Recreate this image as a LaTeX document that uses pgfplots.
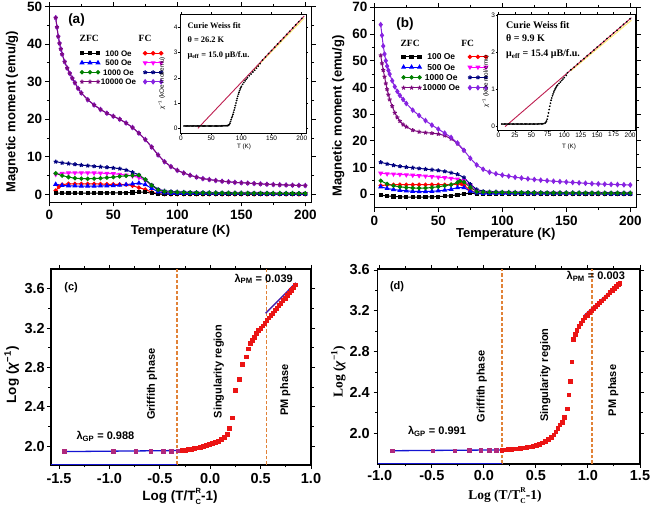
\documentclass[border=0pt]{standalone}
\usepackage{fontspec}
\setmainfont{Liberation Sans}
\newfontfamily\tnr{Liberation Serif}
\usepackage{pgfplots}
\pgfplotsset{compat=1.18}
\definecolor{cNavy}{RGB}{0,0,128}
\definecolor{cGreen}{RGB}{0,128,0}
\definecolor{cPurple}{RGB}{125,10,125}
\definecolor{cViolet}{RGB}{135,35,225}
\definecolor{cMag}{RGB}{255,0,255}
\definecolor{cRed}{RGB}{255,0,0}
\definecolor{cBlue}{RGB}{0,0,255}
\definecolor{cFit}{RGB}{190,30,80}
\definecolor{cYel}{RGB}{255,235,120}
\definecolor{cSq}{RGB}{235,20,20}
\definecolor{cSqP}{RGB}{175,40,125}
\definecolor{cGP}{RGB}{20,20,210}
\definecolor{cPM}{RGB}{70,30,170}
\tikzset{
 sZ100/.style={black, mark=square*, mark size=1.6pt, line width=1pt},
 sZ500/.style={cBlue, mark=triangle*, mark size=2pt, line width=1pt},
 sZ1k/.style={cGreen, mark=*, mark size=1.7pt, line width=1pt},
 sZ10k/.style={cPurple, mark=star, mark size=2.1pt, line width=1pt, mark options={line width=1.1pt}},
 sF100/.style={cRed, mark=*, mark size=1.7pt, line width=1pt},
 sF500/.style={cMag, mark=triangle*, mark size=2pt, line width=1pt, mark options={rotate=180}},
 sF1k/.style={cNavy, mark=star, mark size=2.1pt, line width=1pt, mark options={line width=1.2pt}},
 sF10k/.style={cViolet, mark=diamond*, mark size=2.1pt, line width=1pt},
 dashv/.style={draw={rgb,255:red,225;green,130;blue,55}, line width=1.5pt, dash pattern=on 3.5pt off 2pt},
}
\newcommand{\labfont}{\fontsize{13}{15}\selectfont\bfseries}
\newcommand{\labfontc}{\fontsize{13.5}{15}\selectfont\bfseries}
\newcommand{\labfontd}{\tnr\bfseries\fontsize{13.5}{15}\selectfont}
\newcommand{\insfont}{\fontsize{6.3}{7}\selectfont}
\newcommand{\TCR}{T\rlap{\raisebox{0.52em}{\fontsize{7.5}{8}\selectfont R}}\raisebox{-0.32em}{\fontsize{7.5}{8}\selectfont C}}
\pgfplotsset{
 mainax/.style={scale only axis, anchor=south west,
   axis line style={line width=1.2pt},
   tick align=outside, major tick length=4pt, minor tick length=2.5pt,
   every tick/.append style={black, line width=1pt},
   /pgf/number format/assume math mode=true},
 insetax/.style={scale only axis, anchor=south west,
   axis line style={line width=0.9pt},
   tick align=outside, major tick length=1.8pt, minor tick length=1pt,
   every tick/.append style={black, line width=0.6pt},
   axis background/.style={fill=white},
   /pgf/number format/assume math mode=true,
   tick label style={font=\fontsize{6.5}{7}\selectfont},
   xticklabel style={inner sep=0.5pt},
   yticklabel style={inner sep=0.5pt}},
}
\begin{document}
\begin{tikzpicture}
\useasboundingbox (0pt,0pt) rectangle (651pt,510pt);

%%%%%%%%%%%%%%%%%%%%%%%% (a)
\begin{axis}[mainax, at={(49.3pt,307.7pt)}, width=262.4pt, height=195.8pt,
 xmin=0, xmax=205, ymin=-2.1, ymax=50,
 xtick={0,50,100,150,200}, ytick={0,10,20,30,40,50},
 minor x tick num=1, minor y tick num=1,
 tick label style={font=\fontsize{13.5}{14}\selectfont\bfseries},
 xticklabel style={inner sep=0pt, yshift=-3.7pt},
 yticklabel style={inner sep=0pt, xshift=-3pt},
 xlabel={Temperature (K)}, ylabel={Magnetic moment (emu/g)},
 every axis x label/.style={at={(axis description cs:0.5,-0.145)}, anchor=center, font=\labfont},
 every axis y label/.style={at={(axis description cs:-0.142,0.463)}, rotate=90, anchor=center, font=\labfont},
 legend columns=2,
 legend style={at={(axis description cs:0.117,0.781)}, anchor=north west, draw=none, fill=none,
   inner sep=0pt, outer sep=0pt, font=\fontsize{8}{9}\selectfont\bfseries, row sep=1.7pt,
   nodes={inner sep=1pt, text height=5.8pt, text depth=0pt},
   /tikz/every even column/.append style={column sep=6pt}},
 legend image code/.code={\draw[#1] plot coordinates {(0pt,0pt) (8pt,0pt) (16pt,0pt)};},
]
\addlegendimage{sZ100}\addlegendentry{100 Oe}
\addlegendimage{sF100}\addlegendentry{\mbox{}}
\addlegendimage{sZ500}\addlegendentry{500 Oe}
\addlegendimage{sF500}\addlegendentry{\mbox{}}
\addlegendimage{sZ1k}\addlegendentry{1000 Oe}
\addlegendimage{sF1k}\addlegendentry{\mbox{}}
\addlegendimage{sZ10k}\addlegendentry{10000 Oe}
\addlegendimage{sF10k}\addlegendentry{\mbox{}}
% FC 100
\addplot[sF100, forget plot] coordinates {(5,1.0)(7.5,2.0)(10,2.6)(15,2.8)(20,2.8)(25,2.8)(30,2.8)(35,2.8)(40,2.75)(45,2.7)(50,2.7)(55,2.65)(60,2.6)(65,2.3)(70,1.8)(75,1.3)(80,0.6)(85,0.15)(90,0.05)(95,0.03)(100,0.03)(105,0.03)(110,0.03)(115,0.03)(120,0.03)(125,0.03)(130,0.03)(135,0.03)(140,0.03)(145,0.03)(150,0.03)(155,0.03)(160,0.03)(165,0.03)(170,0.03)(175,0.03)(180,0.03)(185,0.03)(190,0.03)(195,0.03)(200,0.03)};
% FC 500
\addplot[sF500, forget plot] coordinates {(5,5.3)(10,5.6)(15,5.7)(20,5.75)(25,5.75)(30,5.75)(35,5.7)(40,5.65)(45,5.6)(50,5.5)(55,5.35)(60,5.15)(65,4.9)(70,4.5)(75,3.7)(80,2.4)(85,1.1)(90,0.55)(95,0.4)(100,0.35)(105,0.34)(110,0.33)(115,0.32)(120,0.31)(125,0.3)(130,0.29)(135,0.28)(140,0.27)(145,0.27)(150,0.26)(155,0.25)(160,0.25)(165,0.24)(170,0.24)(175,0.23)(180,0.23)(185,0.22)(190,0.22)(195,0.22)(200,0.21)};
% FC 1000
\addplot[sF1k, forget plot] coordinates {(5,8.7)(10,8.4)(15,8.2)(20,8.0)(25,7.8)(30,7.65)(35,7.5)(40,7.35)(45,7.2)(50,7.05)(55,6.85)(60,6.5)(65,5.9)(70,5.2)(75,3.9)(80,2.5)(85,1.4)(90,0.95)(95,0.8)(100,0.72)(105,0.66)(110,0.61)(115,0.57)(120,0.54)(125,0.51)(130,0.49)(135,0.47)(140,0.45)(145,0.43)(150,0.42)(155,0.41)(160,0.4)(165,0.39)(170,0.38)(175,0.37)(180,0.36)(185,0.35)(190,0.35)(195,0.34)(200,0.34)};
% ZFC 100
\addplot[sZ100, forget plot] coordinates {(5,0.35)(10,0.35)(15,0.35)(20,0.35)(25,0.35)(30,0.35)(35,0.36)(40,0.37)(45,0.38)(50,0.4)(55,0.42)(60,0.45)(65,0.5)(70,0.58)(75,0.6)(80,0.35)(85,0.12)(90,0.06)(95,0.05)(100,0.05)(105,0.05)(110,0.05)(115,0.05)(120,0.05)(125,0.05)(130,0.05)(135,0.05)(140,0.05)(145,0.05)(150,0.05)(155,0.05)(160,0.05)(165,0.05)(170,0.05)(175,0.05)(180,0.05)(185,0.05)(190,0.05)(195,0.05)(200,0.05)};
% ZFC 500
\addplot[sZ500, forget plot] coordinates {(5,2.7)(10,2.4)(15,2.3)(20,2.25)(25,2.2)(30,2.2)(35,2.2)(40,2.25)(45,2.3)(50,2.35)(55,2.45)(60,2.6)(65,2.8)(70,3.0)(75,2.6)(80,1.6)(85,0.7)(90,0.4)(95,0.3)(100,0.28)(105,0.27)(110,0.26)(115,0.25)(120,0.24)(125,0.23)(130,0.22)(135,0.21)(140,0.2)(145,0.2)(150,0.19)(155,0.18)(160,0.18)(165,0.17)(170,0.17)(175,0.16)(180,0.16)(185,0.15)(190,0.15)(195,0.15)(200,0.14)};
% ZFC 1000
\addplot[sZ1k, forget plot] coordinates {(5,5.6)(10,5.0)(15,4.6)(20,4.3)(25,4.2)(30,4.15)(35,4.2)(40,4.3)(45,4.45)(50,4.6)(55,4.8)(60,4.95)(65,5.05)(70,5.1)(75,4.0)(80,2.4)(85,1.2)(90,0.75)(95,0.6)(100,0.55)(105,0.5)(110,0.47)(115,0.45)(120,0.43)(125,0.41)(130,0.39)(135,0.37)(140,0.36)(145,0.35)(150,0.34)(155,0.33)(160,0.32)(165,0.31)(170,0.3)(175,0.3)(180,0.29)(185,0.28)(190,0.28)(195,0.27)(200,0.27)};
% FC 10000
\addplot[sF10k, forget plot] coordinates {(5,47.0)(6,44.5)(7,42.0)(8,40.2)(9,38.7)(10,37.3)(12,35.3)(14,33.6)(16,32.2)(18,30.9)(20,29.7)(22.5,28.2)(25,27.0)(30,25.2)(35,23.8)(40,22.6)(45,21.6)(50,20.8)(55,20.0)(60,19.0)(65,17.8)(70,16.3)(75,14.6)(80,12.6)(85,10.5)(90,8.7)(95,7.4)(100,6.4)(105,5.7)(110,5.1)(115,4.6)(120,4.2)(125,3.95)(130,3.7)(135,3.5)(140,3.35)(145,3.2)(150,3.1)(155,3.0)(160,2.9)(165,2.8)(170,2.7)(175,2.62)(180,2.55)(185,2.5)(190,2.45)(195,2.4)(200,2.35)};
% ZFC 10000
\addplot[sZ10k, forget plot] coordinates {(5,47.0)(6,44.5)(7,42.0)(8,40.2)(9,38.7)(10,37.3)(12,35.3)(14,33.6)(16,32.2)(18,30.9)(20,29.7)(22.5,28.2)(25,27.0)(30,25.2)(35,23.8)(40,22.6)(45,21.6)(50,20.8)(55,20.0)(60,19.0)(65,17.8)(70,16.3)(75,14.6)(80,12.6)(85,10.5)(90,8.7)(95,7.4)(100,6.4)(105,5.7)(110,5.1)(115,4.6)(120,4.2)(125,3.95)(130,3.7)(135,3.5)(140,3.35)(145,3.2)(150,3.1)(155,3.0)(160,2.9)(165,2.8)(170,2.7)(175,2.62)(180,2.55)(185,2.5)(190,2.45)(195,2.4)(200,2.35)};
\node[font=\tnr\bfseries\fontsize{9.5}{10}\selectfont] at (axis cs:31.2,41.5) {ZFC};
\node[font=\tnr\bfseries\fontsize{9.5}{10}\selectfont] at (axis cs:74.8,41.5) {FC};
\node[font=\fontsize{13.5}{14}\selectfont\bfseries] at (axis cs:21.25,46.4) {(a)};
\end{axis}

% inset (a)
\begin{axis}[insetax, at={(180pt,376.7pt)}, width=126pt, height=119.3pt,
 xmin=-1.7, xmax=207, ymin=-0.2, ymax=4.53,
 xtick={0,50,100,150,200}, ytick={0,1,2,3,4},
 xlabel={T (K)}, ylabel={\textit{χ}\textsuperscript{−1} (kOe mol/emu)},
 every axis x label/.style={at={(axis description cs:0.508,-0.112)}, anchor=center, font=\insfont},
 every axis y label/.style={at={(axis description cs:-0.145,0.42)}, rotate=90, anchor=center, font=\insfont},
]
\addplot[only marks, mark=*, mark size=0.65pt, black] coordinates {(5,0.09)(7,0.09)(9,0.09)(11,0.09)(13,0.09)(15,0.09)(17,0.09)(19,0.09)(21,0.09)(23,0.09)(25,0.09)(27,0.09)(29,0.09)(31,0.09)(33,0.09)(35,0.09)(37,0.09)(39,0.09)(41,0.09)(43,0.09)(45,0.09)(47,0.09)(49,0.09)(51,0.09)(53,0.09)(55,0.09)(57,0.09)(59,0.09)(61,0.09)(63,0.09)(65,0.09)(67,0.095)(69,0.095)(71,0.1)(73,0.1)(75,0.1)(77,0.105)(78,0.11)(79,0.13)(80,0.15)(81,0.2)(82,0.27)(83,0.34)(84,0.42)(85,0.48)(86,0.55)(87,0.63)(88,0.72)(89,0.81)(90,0.9)(91,1.0)(92,1.1)(93,1.18)(94,1.27)(95,1.35)(96,1.42)(97,1.49)(98,1.56)(99,1.61)(100,1.66)(102,1.74)(104,1.81)(106,1.88)(108,1.94)(110,2.0)(113,2.08)(116,2.15)(119,2.23)(122,2.3)(125,2.38)(128,2.46)(131,2.56)(135,2.7)(140,2.83)(145,2.96)(150,3.08)(155,3.21)(160,3.34)(165,3.46)(170,3.59)(175,3.72)(180,3.84)(185,3.97)(190,4.1)(195,4.22)(200,4.35)};
\addplot[cYel, line width=1pt] coordinates {(120,2.30)(204,4.36)};
\addplot[cFit, line width=0.9pt] coordinates {(28,0)(204,4.45)};
\node[anchor=base west, font=\tnr\bfseries\fontsize{8.4}{9}\selectfont] at (axis cs:5,3.96) {Curie Weiss fit};
\node[anchor=base west, font=\tnr\bfseries\fontsize{8.4}{9}\selectfont] at (axis cs:5,3.39) {θ = 26.2 K};
\node[anchor=base west, font=\tnr\bfseries\fontsize{8.4}{9}\selectfont] at (axis cs:5,2.81) {μ\textsubscript{eff} = 15.0 μB/f.u.};
\end{axis}

%%%%%%%%%%%%%%%%%%%%%%%% (b)
\begin{axis}[mainax, at={(374.3pt,302.3pt)}, width=262.4pt, height=200.4pt,
 xmin=0, xmax=205, ymin=-5, ymax=70,
 xtick={0,50,100,150,200}, ytick={0,10,20,30,40,50,60,70},
 minor x tick num=1, minor y tick num=1,
 tick label style={font=\fontsize{13.5}{14}\selectfont\bfseries},
 xticklabel style={inner sep=0pt, yshift=-4.3pt},
 yticklabel style={inner sep=0pt, xshift=-2.6pt},
 xlabel={Temperature (K)}, ylabel={Magnetic moment (emu/g)},
 every axis x label/.style={at={(axis description cs:0.501,-0.133)}, anchor=center, font=\labfont},
 every axis y label/.style={at={(axis description cs:-0.137,0.459)}, rotate=90, anchor=center, font=\labfont},
 legend columns=2,
 legend style={at={(axis description cs:0.104,0.773)}, anchor=north west, draw=none, fill=none,
   inner sep=0pt, outer sep=0pt, font=\fontsize{8.5}{9}\selectfont\bfseries, row sep=2.2pt,
   nodes={inner sep=1pt, text height=6.1pt, text depth=0pt},
   /tikz/every even column/.append style={column sep=7pt}},
 legend image code/.code={\draw[#1] plot coordinates {(0pt,0pt) (8pt,0pt) (16pt,0pt)};},
]
\addlegendimage{sZ100}\addlegendentry{100 Oe}
\addlegendimage{sF100}\addlegendentry{\mbox{}}
\addlegendimage{sZ500}\addlegendentry{500 Oe}
\addlegendimage{sF500}\addlegendentry{\mbox{}}
\addlegendimage{sZ1k}\addlegendentry{1000 Oe}
\addlegendimage{sF1k}\addlegendentry{\mbox{}}
\addlegendimage{sZ10k}\addlegendentry{10000 Oe}
\addlegendimage{sF10k}\addlegendentry{\mbox{}}
% FC 100
\addplot[sF100, forget plot] coordinates {(5,3.3)(10,3.5)(15,3.6)(20,3.6)(25,3.6)(30,3.6)(35,3.6)(40,3.6)(45,3.6)(50,3.6)(55,3.6)(60,3.65)(65,3.8)(68,3.9)(70,3.4)(75,1.5)(80,0.4)(85,0.3)(90,0.25)(95,0.24)(100,0.23)(105,0.22)(110,0.21)(115,0.2)(120,0.2)(125,0.19)(130,0.18)(135,0.18)(140,0.17)(145,0.17)(150,0.16)(155,0.16)(160,0.15)(165,0.15)(170,0.14)(175,0.14)(180,0.13)(185,0.13)(190,0.13)(195,0.12)(200,0.12)};
% FC 500
\addplot[sF500, forget plot] coordinates {(5,7.9)(10,7.7)(15,7.6)(20,7.45)(25,7.3)(30,7.15)(35,7.0)(40,6.85)(45,6.65)(50,6.45)(55,6.25)(60,6.0)(65,5.7)(70,5.1)(75,3.2)(80,1.2)(85,0.7)(90,0.6)(95,0.57)(100,0.55)(105,0.53)(110,0.51)(115,0.49)(120,0.47)(125,0.46)(130,0.44)(135,0.43)(140,0.42)(145,0.41)(150,0.4)(155,0.39)(160,0.38)(165,0.37)(170,0.36)(175,0.36)(180,0.35)(185,0.35)(190,0.34)(195,0.34)(200,0.33)};
% FC 1000
\addplot[sF1k, forget plot] coordinates {(5,12.0)(10,11.4)(15,10.9)(20,10.5)(25,10.2)(30,9.95)(35,9.7)(40,9.45)(45,9.2)(50,8.95)(55,8.6)(60,8.1)(65,7.5)(70,6.3)(75,3.8)(80,1.8)(85,1.2)(90,1.0)(95,0.95)(100,0.9)(105,0.87)(110,0.84)(115,0.81)(120,0.78)(125,0.76)(130,0.74)(135,0.72)(140,0.7)(145,0.68)(150,0.67)(155,0.66)(160,0.65)(165,0.64)(170,0.63)(175,0.62)(180,0.61)(185,0.6)(190,0.6)(195,0.59)(200,0.58)};
% ZFC 100
\addplot[sZ100, forget plot] coordinates {(5,-0.3)(10,-0.6)(15,-0.8)(20,-0.9)(25,-1.0)(30,-1.05)(35,-1.05)(40,-1.0)(45,-0.95)(50,-0.85)(55,-0.7)(60,-0.5)(65,-0.2)(70,0.2)(75,0.4)(80,0.3)(85,0.25)(90,0.22)(95,0.21)(100,0.2)(105,0.2)(110,0.19)(115,0.19)(120,0.18)(125,0.18)(130,0.17)(135,0.17)(140,0.16)(145,0.16)(150,0.15)(155,0.15)(160,0.14)(165,0.14)(170,0.13)(175,0.13)(180,0.12)(185,0.12)(190,0.11)(195,0.11)(200,0.1)};
% ZFC 500
\addplot[sZ500, forget plot] coordinates {(5,2.8)(10,2.2)(15,1.8)(20,1.5)(25,1.3)(30,1.15)(35,1.05)(40,1.05)(45,1.15)(50,1.3)(55,1.55)(60,1.9)(65,2.5)(70,2.5)(75,1.2)(80,0.5)(85,0.4)(90,0.38)(95,0.36)(100,0.35)(105,0.34)(110,0.33)(115,0.32)(120,0.31)(125,0.3)(130,0.29)(135,0.28)(140,0.27)(145,0.26)(150,0.25)(155,0.25)(160,0.24)(165,0.23)(170,0.23)(175,0.22)(180,0.22)(185,0.21)(190,0.21)(195,0.2)(200,0.2)};
% ZFC 1000
\addplot[sZ1k, forget plot] coordinates {(5,5.1)(10,3.9)(15,3.2)(20,2.8)(25,2.55)(30,2.4)(35,2.3)(40,2.35)(45,2.55)(50,2.85)(55,3.2)(60,3.6)(65,4.4)(67,5.0)(70,4.6)(75,2.6)(80,1.0)(85,0.8)(90,0.75)(95,0.72)(100,0.7)(105,0.68)(110,0.66)(115,0.64)(120,0.62)(125,0.6)(130,0.58)(135,0.57)(140,0.55)(145,0.54)(150,0.53)(155,0.52)(160,0.51)(165,0.5)(170,0.49)(175,0.48)(180,0.47)(185,0.46)(190,0.46)(195,0.45)(200,0.45)};
% ZFC 10000
\addplot[sZ10k, forget plot] coordinates {(5,52.0)(6,49.0)(7,46.5)(8,44.0)(9,41.5)(10,39.3)(11,37.3)(12,35.5)(14,33.0)(16,30.5)(18,28.8)(20,27.4)(22.5,26.1)(25,25.3)(30,24.0)(35,23.4)(40,23.1)(45,22.9)(50,22.6)(55,22.0)(60,20.8)(65,19.0)(70,16.4)};
% FC 10000
\addplot[sF10k, forget plot] coordinates {(5,63.5)(6,59.5)(7,55.5)(8,52.5)(9,50.0)(10,48.0)(11,46.4)(12,45.0)(14,42.5)(16,40.3)(18,38.5)(20,37.0)(22.5,35.5)(25,34.0)(30,31.5)(35,29.5)(40,27.6)(45,25.9)(50,24.4)(55,22.9)(60,21.3)(65,19.2)(70,16.5)(75,13.5)(80,11.0)(85,9.4)(90,8.3)(95,7.7)(100,7.2)(105,6.8)(110,6.4)(115,6.1)(120,5.8)(125,5.55)(130,5.3)(135,5.1)(140,4.9)(145,4.75)(150,4.6)(155,4.45)(160,4.3)(165,4.15)(170,4.0)(175,3.9)(180,3.8)(185,3.72)(190,3.65)(195,3.57)(200,3.5)};
\node[font=\tnr\bfseries\fontsize{9.5}{10}\selectfont] at (axis cs:28.0,56.5) {ZFC};
\node[font=\tnr\bfseries\fontsize{9.5}{10}\selectfont] at (axis cs:73.0,56.5) {FC};
\node[font=\fontsize{13.5}{14}\selectfont\bfseries] at (axis cs:24.0,63.7) {(b)};
\end{axis}

% inset (b)
\begin{axis}[insetax, at={(497.5pt,380pt)}, width=137.5pt, height=116pt,
 xmin=-1.5, xmax=207.5, ymin=-0.09, ymax=3.03,
 xtick={0,25,50,75,100,125,150,175,200}, ytick={0,1,2,3},
 xlabel={T (K)}, ylabel={\textit{χ}\textsuperscript{−1} (kOe mol/emu)},
 every axis x label/.style={at={(axis description cs:0.52,-0.144)}, anchor=center, font=\insfont},
 every axis y label/.style={at={(axis description cs:-0.085,0.42)}, rotate=90, anchor=center, font=\insfont},
]
\addplot[only marks, mark=*, mark size=0.65pt, black] coordinates {(5,0.07)(7,0.07)(9,0.07)(11,0.07)(13,0.07)(15,0.07)(17,0.07)(19,0.07)(21,0.07)(23,0.07)(25,0.07)(27,0.07)(29,0.07)(31,0.07)(33,0.07)(35,0.07)(37,0.07)(39,0.07)(41,0.07)(43,0.07)(45,0.07)(47,0.07)(49,0.07)(51,0.07)(53,0.07)(55,0.07)(57,0.07)(59,0.07)(61,0.075)(63,0.075)(65,0.075)(67,0.075)(69,0.08)(71,0.1)(72,0.12)(73,0.15)(74,0.2)(75,0.28)(76,0.37)(77,0.46)(78,0.55)(79,0.63)(80,0.71)(81,0.77)(82,0.83)(83,0.88)(84,0.93)(85,0.97)(86,1.01)(87,1.04)(88,1.07)(89,1.1)(90,1.12)(92,1.16)(94,1.2)(96,1.24)(98,1.28)(100,1.32)(103,1.38)(105,1.45)(110,1.53)(115,1.6)(120,1.68)(125,1.76)(130,1.83)(135,1.91)(140,1.98)(145,2.06)(150,2.14)(155,2.21)(160,2.29)(165,2.37)(170,2.44)(175,2.52)(180,2.59)(185,2.67)(190,2.75)(195,2.82)(200,2.9)};
\addplot[cYel, line width=1pt] coordinates {(110,1.50)(202,2.86)};
\addplot[cFit, line width=0.9pt] coordinates {(10,0)(202,2.93)};
\node[anchor=base west, font=\tnr\bfseries\fontsize{10}{11}\selectfont] at (axis cs:6.4,2.64) {Curie Weiss fit};
\node[anchor=base west, font=\tnr\bfseries\fontsize{10}{11}\selectfont] at (axis cs:6.4,2.28) {θ = 9.9 K};
\node[anchor=base west, font=\tnr\bfseries\fontsize{10}{11}\selectfont] at (axis cs:6.4,1.88) {μ\textsubscript{eff} = 15.4 μB/f.u.};
\end{axis}

%%%%%%%%%%%%%%%%%%%%%%%% (c)
\begin{axis}[mainax, at={(51pt,45pt)}, width=260pt, height=196pt,
 xmin=-1.58, xmax=1.0, ymin=1.81, ymax=3.8,
 xtick={-1.5,-1,-0.5,0,0.5,1}, ytick={2.0,2.4,2.8,3.2,3.6},
 minor x tick num=1, minor y tick num=1,
 /pgf/number format/.cd, fixed, fixed zerofill, precision=1, /pgfplots/.cd,
 tick label style={font=\fontsize{14.5}{15}\selectfont\bfseries},
 xticklabel style={inner sep=0pt, yshift=-4.3pt},
 yticklabel style={inner sep=0pt, xshift=-2pt},
 xlabel={Log (T/\TCR-1)}, ylabel={Log (\textit{χ}\textsuperscript{−1})},
 every axis x label/.style={at={(axis description cs:0.496,-0.160)}, anchor=center, font=\labfontc},
 every axis y label/.style={at={(axis description cs:-0.151,0.46)}, rotate=90, anchor=center, font=\labfontc},
]
\addplot[dashv] coordinates {(-0.33,1.81)(-0.33,3.8)};
\addplot[dashv] coordinates {(0.56,1.81)(0.56,3.8)};
\addplot[cGP, line width=0.8pt] coordinates {(-1.58,1.816)(-0.33,1.816)};
\addplot[only marks, mark=square*, mark size=1.9pt, cSqP] coordinates {(-1.45,1.946)(-0.96,1.946)(-0.74,1.947)(-0.59,1.948)(-0.47,1.95)(-0.39,1.952)(-0.32,1.955)};
\addplot[only marks, mark=square*, mark size=1.9pt, cSq] coordinates {(-0.28,1.96)(-0.25,1.964)(-0.22,1.968)(-0.19,1.973)(-0.16,1.979)(-0.13,1.986)(-0.1,1.994)(-0.07,2.002)(-0.04,2.01)(-0.01,2.019)(0.02,2.029)(0.05,2.04)(0.08,2.053)(0.11,2.069)(0.14,2.09)(0.165,2.12)(0.19,2.18)(0.215,2.29)(0.25,2.57)(0.29,2.68)(0.32,2.83)(0.355,2.91)(0.375,2.99)(0.40,3.05)(0.42,3.08)(0.44,3.11)(0.46,3.15)(0.48,3.18)(0.50,3.2)(0.52,3.225)(0.54,3.25)(0.56,3.28)(0.58,3.305)(0.60,3.33)(0.62,3.355)(0.64,3.38)(0.66,3.405)(0.68,3.43)(0.70,3.455)(0.72,3.48)(0.74,3.505)(0.76,3.53)(0.78,3.56)(0.80,3.585)(0.82,3.61)(0.84,3.64)};
\addplot[cGP, line width=1.3pt] coordinates {(-1.45,1.946)(-0.28,1.957)};
\addplot[cPM, line width=1.4pt] coordinates {(0.55,3.35)(0.85,3.66)};
\node[rotate=90, font=\fontsize{11}{12}\selectfont\bfseries] at (axis cs:-0.577,2.63) {Griffith phase};
\node[rotate=90, font=\fontsize{11}{12}\selectfont\bfseries] at (axis cs:0.084,2.76) {Singularity region};
\node[rotate=90, font=\fontsize{11}{12}\selectfont\bfseries] at (axis cs:0.745,2.57) {PM phase};
\node[font=\fontsize{11}{12}\selectfont\bfseries] at (axis cs:-1.04,2.10) {λ\textsubscript{GP} = 0.988};
\node[font=\fontsize{11}{12}\selectfont\bfseries] at (axis cs:0.53,3.70) {λ\textsubscript{PM} = 0.039};
\node[font=\fontsize{11}{12}\selectfont\bfseries] at (axis cs:-1.38,3.61) {(c)};
\end{axis}

%%%%%%%%%%%%%%%%%%%%%%%% (d)
\begin{axis}[mainax, at={(377.7pt,46pt)}, width=262.3pt, height=195pt,
 xmin=-1.02, xmax=1.5, ymin=1.70, ymax=3.61,
 xtick={-1,-0.5,0,0.5,1,1.5}, ytick={2.0,2.4,2.8,3.2,3.6},
 minor x tick num=1, minor y tick num=1,
 /pgf/number format/.cd, fixed, fixed zerofill, precision=1, /pgfplots/.cd,
 tick label style={font=\fontsize{14.5}{15}\selectfont\bfseries},
 xticklabel style={inner sep=0pt, yshift=-2pt},
 yticklabel style={inner sep=0pt, xshift=-3.7pt},
 xlabel={Log (T/\TCR-1)}, ylabel={Log (\textit{χ}\textsuperscript{−1})},
 every axis x label/.style={at={(axis description cs:0.485,-0.162)}, anchor=center, font=\labfontd},
 every axis y label/.style={at={(axis description cs:-0.150,0.473)}, rotate=90, anchor=center, font=\labfontd},
]
\addplot[dashv] coordinates {(0.172,1.70)(0.172,3.61)};
\addplot[dashv] coordinates {(1.037,1.70)(1.037,3.61)};
\addplot[cGP, line width=0.8pt] coordinates {(-1.02,1.706)(0.17,1.706)};
\addplot[only marks, mark=square*, mark size=1.8pt, cSqP] coordinates {(-0.88,1.83)(-0.49,1.831)(-0.28,1.832)(-0.14,1.833)(-0.03,1.834)(0.05,1.835)(0.12,1.836)};
\addplot[only marks, mark=square*, mark size=1.8pt, cSq] coordinates {(0.17,1.838)(0.2,1.84)(0.23,1.842)(0.26,1.845)(0.29,1.848)(0.32,1.851)(0.35,1.855)(0.38,1.859)(0.41,1.864)(0.44,1.87)(0.47,1.877)(0.5,1.885)(0.53,1.895)(0.56,1.907)(0.59,1.922)(0.62,1.94)(0.645,1.96)(0.67,1.985)(0.69,2.015)(0.71,2.05)(0.73,2.085)(0.75,2.11)(0.77,2.16)(0.80,2.24)(0.815,2.38)(0.83,2.51)(0.845,2.7)(0.86,2.92)(0.875,2.97)(0.89,3.01)(0.91,3.05)(0.93,3.08)(0.95,3.11)(0.97,3.135)(0.99,3.16)(1.01,3.18)(1.03,3.2)(1.05,3.22)(1.07,3.24)(1.09,3.26)(1.11,3.28)(1.13,3.3)(1.15,3.32)(1.17,3.34)(1.19,3.36)(1.21,3.38)(1.23,3.4)(1.25,3.42)(1.27,3.44)(1.29,3.46)(1.305,3.47)};
\addplot[cGP, line width=1.3pt] coordinates {(-0.88,1.83)(0.2,1.838)};
\addplot[cPM, line width=1.4pt] coordinates {(0.96,3.15)(1.30,3.47)};
\node[rotate=90, font=\fontsize{11}{12}\selectfont\bfseries] at (axis cs:-0.019,2.46) {Griffith phase};
\node[rotate=90, font=\fontsize{11}{12}\selectfont\bfseries] at (axis cs:0.589,2.57) {Singularity region};
\node[rotate=90, font=\fontsize{11}{12}\selectfont\bfseries] at (axis cs:1.244,2.42) {PM phase};
\node[font=\fontsize{11}{12}\selectfont\bfseries] at (axis cs:-0.45,2.02) {λ\textsubscript{GP} = 0.991};
\node[font=\fontsize{11}{12}\selectfont\bfseries] at (axis cs:1.075,3.54) {λ\textsubscript{PM} = 0.003};
\node[font=\fontsize{11}{12}\selectfont\bfseries] at (axis cs:-0.834,3.44) {(d)};
\end{axis}
\end{tikzpicture}
\end{document}
